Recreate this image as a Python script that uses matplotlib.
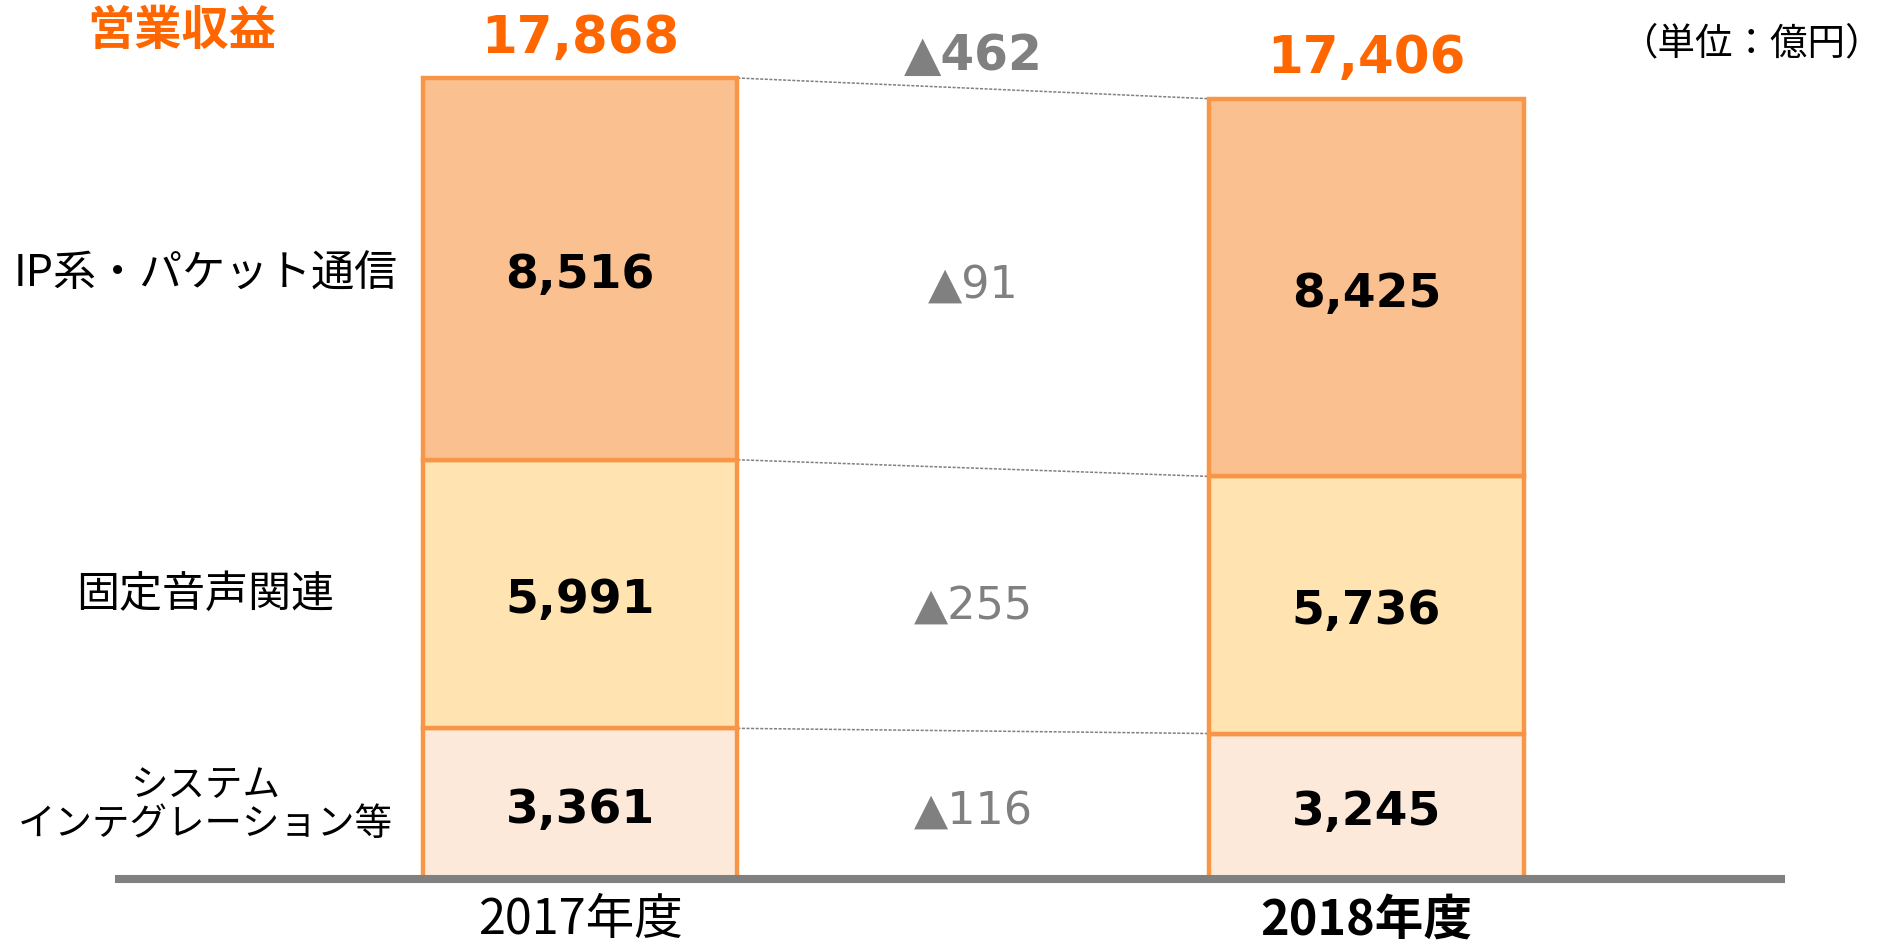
import matplotlib
matplotlib.use('Agg')
import matplotlib.pyplot as plt
import matplotlib.transforms as mtransforms

# Japanese text needs a CJK font, numbers use DejaVu
plt.rcParams['font.family'] = ['Noto Sans CJK JP', 'DejaVu Sans']

# Chart data (億円)
years = ['2017年度', '2018年度']
segments = ['システム\nインテグレーション等', '固定音声関連', 'IP系・パケット通信']
system_vals = [3361, 3245]
voice_vals = [5991, 5736]
ip_vals = [8516, 8425]
totals = [17868, 17406]
delta_labels = ['▲116', '▲255', '▲91']
total_delta = '▲462'

seg_values = [system_vals, voice_vals, ip_vals]
seg_colors = ['#FDE9D9', '#FFE4B1', '#FAC090']
edge_color = '#F79646'
orange_text = '#FF6600'
gray = '#808080'

fig = plt.figure(figsize=(18.83, 9.45), dpi=100)
# axes runs from the baseline to the top of the figure
ax = fig.add_axes([0, 65 / 945, 1, 880 / 945])
ax.set_xlim(-0.7375, 1.6567)
ax.set_ylim(0, 17868 * 880 / 801)
ax.axis('off')

x = [0, 1]
bar_w = 0.40

# stacked bars with value labels in each block
bottoms = [0, 0]
seg_tops = []
for vals, col in zip(seg_values, seg_colors):
    ax.bar(x, vals, bar_w, bottom=bottoms, color=col, edgecolor=edge_color,
           linewidth=3.2, zorder=2)
    for i in range(2):
        ax.annotate(f'{vals[i]:,}', (x[i], bottoms[i] + vals[i] / 2), xytext=(0, -4),
                    textcoords='offset points', ha='center', va='center',
                    fontsize=34, fontweight='bold', family='DejaVu Sans', color='black', zorder=3)
    bottoms = [bottoms[i] + vals[i] for i in range(2)]
    seg_tops.append(list(bottoms))

# dotted connectors between the bars at each segment top
for tops in seg_tops:
    ax.plot([x[0] + bar_w / 2, x[1] - bar_w / 2], tops, color=gray, linewidth=1.1,
            linestyle=(0, (2, 1)), zorder=1)

# change labels in the middle column
lbl_x = (x[0] + x[1]) / 2
prev = [0, 0]
for vals, lbl in zip(seg_values, delta_labels):
    mid = ((prev[0] + vals[0] / 2) + (prev[1] + vals[1] / 2)) / 2
    ax.annotate(lbl, (lbl_x, mid), xytext=(0, -4), textcoords='offset points',
                ha='center', va='center', fontsize=32, color=gray,
                family='DejaVu Sans', zorder=3)
    prev = [prev[0] + vals[0], prev[1] + vals[1]]

# totals above each bar
for i in range(2):
    ax.annotate(f'{totals[i]:,}', (x[i], totals[i]), xytext=(0, 29), textcoords='offset points',
                ha='center', va='center', fontsize=37, fontweight='bold', color=orange_text,
                family='DejaVu Sans')
ax.annotate(total_delta, (lbl_x, sum(totals) / 2), xytext=(0, 24), textcoords='offset points',
            ha='center', va='center', fontsize=35, fontweight='bold', color=gray,
            family='DejaVu Sans')

# segment names on the left, lined up with the 2017 blocks
trans = mtransforms.blended_transform_factory(ax.transAxes, ax.transData)
prev = 0
for name, vals in zip(segments, seg_values):
    size = 27 if '\n' in name else 31
    nudge = -3 if name.startswith('IP') else 0
    ax.annotate(name, (0.109, prev + vals[0] / 2), xycoords=trans, xytext=(0, nudge),
                textcoords='offset points', ha='center', va='center',
                fontsize=size, color='black', linespacing=1.0)
    prev += vals[0]

# baseline
ax.axhline(0, xmin=119 / 1883, xmax=1781 / 1883, color=gray, linewidth=5.8, zorder=4,
           clip_on=False)

# year labels under the bars
for i in range(2):
    ax.annotate(years[i], (x[i], 0), xytext=(0, -29), textcoords='offset points',
                ha='center', va='center', fontsize=35, color='black',
                fontweight='bold' if i == 1 else 'normal')

fig.text(182 / 1883, 1 - 31 / 945, '営業収益', ha='center', va='center', fontsize=34,
         fontweight='bold', color=orange_text)
fig.text(1752 / 1883, 1 - 44 / 945, '（単位：億円）', ha='center', va='center', fontsize=27,
         color='black')

plt.savefig('out.png', dpi=100)
